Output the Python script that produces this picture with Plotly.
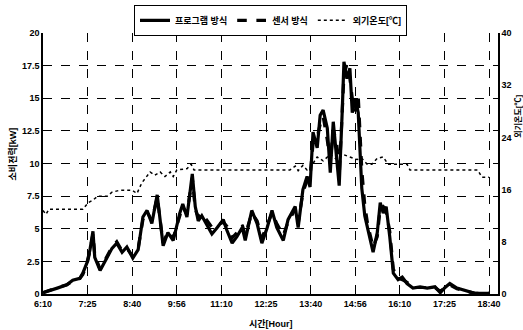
import plotly.graph_objects as go

# time in minutes after 6:10
t_power = [0, 12, 24, 40, 50, 62, 67, 74, 79, 84, 87, 96, 108, 116, 124, 133, 141, 151, 160,
           168, 175, 183, 192, 197, 202, 210, 219, 230, 235, 242, 251, 256, 261, 267, 276, 284,
           293, 303, 309, 318, 326, 335, 340, 351, 360, 368, 377, 385, 393, 404, 412, 424, 429,
           437, 444, 449, 454, 461, 466, 471, 478, 483, 488, 494, 498, 503, 506, 511, 516, 520,
           525, 530, 536, 541, 546, 555, 562, 567, 572, 577, 583, 589, 597, 604, 612, 622, 634,
           646, 659, 668, 676, 684, 696, 713, 726, 750]

program_kw = [0.1, 0.3, 0.45, 0.7, 1.05, 1.2, 1.6, 2.4, 3.4, 4.8, 2.8, 1.8, 2.8, 3.5, 3.9, 3.2, 3.6, 2.75, 3.4,
              5.9, 6.4, 5.4, 7.6, 5.4, 3.7, 4.7, 4.1, 6.2, 6.9, 5.9, 9.2, 6.7, 5.6, 6.0, 5.3, 4.6,
              5.1, 5.7, 4.9, 3.9, 4.4, 5.1, 4.1, 6.4, 5.4, 3.9, 5.1, 6.4, 5.1, 4.1, 5.7, 6.7, 5.1,
              8.0, 9.0, 8.2, 12.4, 11.2, 13.7, 14.1, 12.7, 9.3, 13.2, 10.5, 8.3, 13.9, 17.8, 16.5, 17.3, 13.9,
              15.0, 13.9, 8.1, 6.0, 4.9, 3.2, 4.7, 7.0, 6.2, 6.7, 4.4, 1.6, 1.1, 1.3, 0.8, 0.45, 0.55,
              0.45, 0.55, 0.1, 0.5, 0.8, 0.45, 0.2, 0.05, 0.05]

sensor_kw = [0.1, 0.3, 0.5, 0.7, 1.0, 1.2, 1.5, 2.3, 3.3, 4.6, 3.0, 1.9, 2.9, 3.6, 4.0, 3.3, 3.5, 2.9, 3.5,
             5.7, 6.3, 5.6, 7.4, 5.6, 3.9, 4.8, 4.3, 6.0, 6.7, 6.1, 8.9, 6.5, 5.9, 6.2, 5.6, 5.1,
             5.3, 5.5, 5.2, 4.3, 4.7, 5.3, 4.5, 6.2, 5.6, 4.3, 5.3, 6.2, 5.4, 4.5, 5.5, 6.5, 5.4,
             7.8, 8.7, 9.0, 11.5, 12.0, 13.0, 13.6, 11.8, 10.0, 12.6, 11.5, 9.0, 13.2, 16.8, 17.6, 16.5, 15.0,
             14.0, 15.2, 9.5, 6.8, 5.3, 3.6, 4.4, 6.6, 6.7, 6.3, 4.8, 1.9, 1.2, 1.1, 0.9, 0.5, 0.5,
             0.5, 0.5, 0.2, 0.5, 0.7, 0.4, 0.2, 0.05, 0.05]

t_temp = [0, 5, 10, 67, 76, 84, 92, 108, 116, 129, 150, 158, 166, 180, 188, 197, 205, 214, 219,
          225, 242, 249, 254, 415, 424, 429, 437, 444, 449, 461, 471, 483, 494, 504, 516, 528,
          536, 545, 553, 562, 572, 580, 612, 617, 731, 738, 750]
temp_c = [12.8, 12.2, 13.0, 13.0, 14.0, 14.4, 15.0, 15.0, 15.6, 15.9, 15.9, 15.4, 17.0, 18.7, 18.2, 18.7, 18.0, 18.7, 18.0,
          19.0, 19.2, 19.9, 19.0, 19.0, 19.6, 18.9, 19.7, 19.0, 19.3, 21.0, 20.4, 21.4, 20.6, 21.4, 21.0, 20.6,
          20.8, 19.9, 19.9, 20.8, 21.0, 19.9, 19.9, 19.0, 19.0, 17.9, 17.9]

tick_pos = [0, 75, 150, 225, 300, 375, 450, 525, 600, 675, 750]
tick_text = ["6:10", "7:25", "8:40", "9:56", "11:10", "12:25", "13:40", "14:56", "16:10", "17:25", "18:40"]
left_ticks = [0, 2.5, 5, 7.5, 10, 12.5, 15, 17.5, 20]
right_ticks = [0, 8, 16, 24, 32, 40]

FONT = "Liberation Sans, Arial, Noto Sans CJK KR"

fig = go.Figure()
fig.add_trace(go.Scatter(x=t_power, y=program_kw, mode="lines", name="프로그램 방식",
                         line=dict(color="black", width=3.2)))
fig.add_trace(go.Scatter(x=t_power, y=sensor_kw, mode="lines", name="센서 방식",
                         line=dict(color="black", width=3.2, dash="dash")))
fig.add_trace(go.Scatter(x=t_temp, y=temp_c, mode="lines", name="외기온도[℃]", yaxis="y2",
                         line=dict(color="black", width=1.5, dash="dot")))

fig.update_layout(
    width=523, height=330,
    margin=dict(l=43, r=25, t=33, b=36, autoexpand=False),
    paper_bgcolor="white", plot_bgcolor="white",
    font=dict(family=FONT, size=9, color="black", weight="bold"),
    showlegend=True,
    legend=dict(orientation="h", x=0.5, xanchor="center", y=1.108, yanchor="top",
                bordercolor="black", borderwidth=1, bgcolor="white",
                font=dict(size=9, weight="bold"), itemwidth=30,
                tracegroupgap=0),
    xaxis=dict(range=[0, 765], tickvals=tick_pos, ticktext=tick_text,
               showgrid=True, gridcolor="black", griddash="dash", gridwidth=1,
               showline=True, linecolor="black", linewidth=1.5, zeroline=False,
               ticks="", tickfont=dict(size=9)),
    yaxis=dict(range=[0, 20], tickvals=left_ticks,
               ticktext=["0", "2.5", "5", "7.5", "10", "12.5", "15", "17.5", "20"],
               showgrid=True, gridcolor="black", griddash="dash", gridwidth=1,
               showline=True, linecolor="black", linewidth=1.5, zeroline=False,
               ticks="", tickfont=dict(size=9)),
    yaxis2=dict(range=[0, 40], tickvals=right_ticks, overlaying="y", side="right",
                showgrid=False, showline=True, linecolor="black", linewidth=1.5,
                zeroline=False, ticks="", tickfont=dict(size=9)),
    annotations=[
        dict(text="시간[Hour]", xref="paper", yref="paper", x=0.5, y=-0.088, yanchor="top",
             xanchor="center", showarrow=False, font=dict(size=9, weight="bold")),
        dict(text="소비전력[kW]", xref="paper", yref="paper", x=-0.068, y=0.535, textangle=-90,
             xanchor="center", yanchor="middle", showarrow=False, font=dict(size=9, weight="bold")),
        dict(text="외기온도[℃]", xref="paper", yref="paper", x=1.042, y=0.68, textangle=-90,
             xanchor="center", yanchor="middle", showarrow=False, font=dict(size=8, weight="bold")),
    ],
)

fig.write_html("out.html")
